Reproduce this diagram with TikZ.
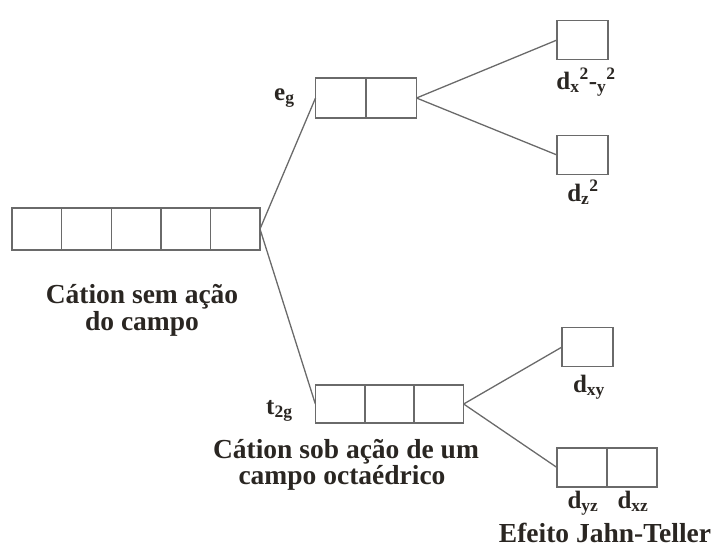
\documentclass[tikz,border=0pt]{standalone}
\usepackage{fontspec}
\setmainfont{Liberation Serif}
\begin{document}
\begin{tikzpicture}[x=1pt,y=-1pt,
  cell/.style={draw=boxgray,line width=1.4pt,minimum width=50pt,minimum height=40pt,inner sep=0pt,outer sep=0pt},
  fcell/.style={cell,minimum width=49.6pt,minimum height=42pt},
  tcell/.style={cell,minimum width=49.3pt,minimum height=38pt},
  scell/.style={cell,minimum width=51pt,minimum height=39pt},
  link/.style={draw=linegray,line width=1.3pt},
  lbl/.style={text=textdark,font=\bfseries\fontsize{27.5}{28}\selectfont,inner sep=0pt,anchor=base},
  orb/.style={text=textdark,font=\bfseries\fontsize{25}{26}\selectfont,inner sep=0pt,anchor=base}]
\definecolor{boxgray}{HTML}{6A6A6A}
\definecolor{linegray}{HTML}{6A6A6A}
\definecolor{textdark}{HTML}{2A2622}
\useasboundingbox (0,0) rectangle (715,550);

% free cation: five degenerate d orbitals
\foreach \i/\cx in {1/36.8,2/86.4,3/136,4/185.6,5/235.2}
  \node[fcell] (f\i) at (\cx,229) {};
\node[lbl] (freelbl) at (142,303) {Cátion sem ação};
\node[lbl] (freelblb) at (142,330) {do campo};

% octahedral field: e_g and t_2g sets
\node[cell] (e1) at (340.5,98) {};
\node[cell] (e2) at (391.5,98) {};
\node[orb,anchor=base west] (eglbl) at (274,100) {e\textsubscript{g}};

\node[tcell] (t1) at (340,404) {};
\node[tcell] (t2) at (389.5,404) {};
\node[tcell] (t3) at (439,404) {};
\node[orb,anchor=base west] (tlbl) at (266,414) {t\textsubscript{2g}};
\node[lbl] (octlbl) at (346,458) {Cátion sob ação de um};
\node[lbl] (octlblb) at (342,484) {campo octaédrico};

% Jahn-Teller distortion
\node[scell] (dx2) at (582.5,40) {};
\node[orb] (dx2lbl) at (586,89) {d\textsubscript{x}\textsuperscript{2}-\textsubscript{y}\textsuperscript{2}};
\node[scell] (dz2) at (582.5,155) {};
\node[orb] (dz2lbl) at (583,201) {d\textsubscript{z}\textsuperscript{2}};

\node[scell] (dxy) at (587.5,347) {};
\node[orb] (dxylbl) at (589,392) {d\textsubscript{xy}};
\node[cell,minimum height=39pt] (dyz) at (582,467.5) {};
\node[cell,minimum height=39pt] (dxz) at (632,467.5) {};
\node[orb] (dyzlbl) at (583,508) {d\textsubscript{yz}};
\node[orb] (dxzlbl) at (633,508) {d\textsubscript{xz}};
\node[lbl] (jtlbl) at (605,542) {Efeito Jahn-Teller};

% splitting lines
\draw[link] (f5.east) -- (e1.west);
\draw[link] (f5.east) -- (t1.west);
\draw[link] (e2.east) -- (dx2.west);
\draw[link] (e2.east) -- (dz2.west);
\draw[link] (t3.east) -- (dxy.west);
\draw[link] (t3.east) -- (dyz.west);
\end{tikzpicture}
\end{document}
